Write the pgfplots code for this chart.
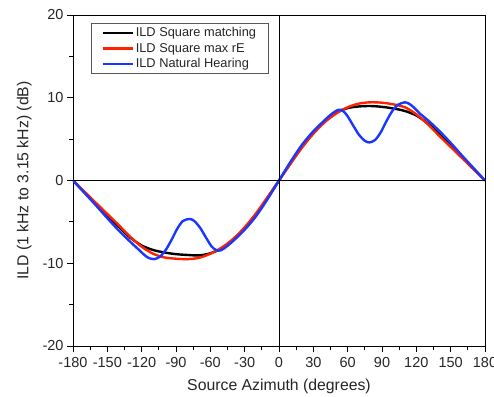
\documentclass[border=0pt]{standalone}
\usepackage{fontspec}
\setmainfont{Liberation Sans}
\usepackage{pgfplots}
\pgfplotsset{compat=1.18}
\definecolor{cred}{RGB}{255,34,0}
\definecolor{cblue}{RGB}{25,55,255}
\begin{document}
\begin{tikzpicture}
\begin{axis}[
  scale only axis,
  width=412pt, height=331pt,
  xmin=-180, xmax=180, ymin=-20, ymax=20,
  xtick={-180,-150,...,180}, ytick={-20,-10,...,20},
  minor x tick num=1, minor y tick num=1,
  tick align=outside, xtick pos=bottom, ytick pos=left,
  major tick length=6pt, minor tick length=4pt,
  tick style={black, line width=0.8pt},
  axis line style={black, line width=0.8pt},
  /pgf/number format/assume math mode=true,
  tick label style={font=\fontsize{14.5}{16}\selectfont, text=black!85},
  xticklabel style={yshift=-2pt},
  xlabel={Source Azimuth (degrees)},
  ylabel={ILD (1 kHz to 3.15 kHz) (dB)},
  label style={font=\fontsize{15.8}{18}\selectfont, text=black!85},
  xlabel style={yshift=-4pt},
  ylabel style={yshift=4pt},
  legend style={at={(axis description cs:0,1)}, anchor=north west, xshift=18pt, yshift=-8pt,
    draw=black!65, line width=0.8pt, font=\fontsize{12.8}{14.5}\selectfont, text=black!85,
    inner xsep=10pt, inner ysep=2pt, row sep=1pt, cells={anchor=west}},
  legend image code/.code={\draw[#1] (2pt,0pt) -- (32pt,0pt);},
  every axis plot/.append style={line width=2.4pt, smooth, no markers, line join=round},
]
\addplot[black] coordinates {
(-180,0)(-170,-1.4)(-160,-2.8)(-150,-4.2)(-140,-5.6)(-130,-6.9)(-120,-7.85)(-110,-8.4)(-100,-8.7)(-90,-8.9)(-80,-9.0)(-70,-9.05)(-60,-8.8)(-50,-8.2)(-40,-7.2)(-30,-5.8)(-20,-4.1)(-10,-2.1)
(0,0)(10,2.1)(20,4.1)(30,5.8)(40,7.2)(50,8.2)(60,8.75)(70,8.95)(80,9.0)(90,8.9)(100,8.7)(110,8.4)(120,7.85)(130,6.9)(140,5.6)(150,4.2)(160,2.8)(170,1.4)(180,0)};
\addlegendentry{ILD Square matching}
\addplot[cred] coordinates {
(-180,0)(-170,-1.35)(-160,-2.7)(-150,-4.05)(-140,-5.4)(-130,-6.8)(-120,-8.0)(-110,-8.85)(-100,-9.3)(-90,-9.45)(-80,-9.5)(-70,-9.35)(-60,-8.85)(-50,-8.1)(-40,-7.05)(-30,-5.65)(-20,-3.95)(-10,-2.0)
(0,0)(10,2.0)(20,3.95)(30,5.65)(40,7.05)(50,8.1)(60,8.85)(70,9.3)(80,9.45)(90,9.4)(100,9.2)(110,8.85)(120,8.0)(130,6.8)(140,5.4)(150,4.05)(160,2.7)(170,1.35)(180,0)};
\addlegendentry{ILD Square max rE}
\addplot[cblue] coordinates {
(-180,0)(-170,-1.5)(-160,-3.0)(-150,-4.55)(-140,-6.05)(-130,-7.4)(-123,-8.3)(-118,-8.95)(-114,-9.35)(-109,-9.5)(-104,-9.2)(-99,-8.4)(-94,-7.2)(-89,-5.85)(-84,-4.9)(-78,-4.65)(-74,-4.9)(-69,-5.7)(-64,-6.85)(-59,-7.95)(-55,-8.4)(-51,-8.45)(-46,-8.0)(-40,-7.3)(-30,-5.95)(-20,-4.3)(-10,-2.25)
(0,0)(10,2.25)(20,4.3)(30,5.95)(40,7.3)(46,8.05)(52,8.55)(56,8.4)(60,7.75)(65,6.6)(70,5.5)(75,4.8)(79,4.6)(84,4.9)(89,5.85)(94,7.2)(99,8.4)(104,9.15)(110,9.45)(114,9.25)(118,8.8)(123,8.1)(130,7.3)(140,6.0)(150,4.55)(160,3.0)(170,1.5)(180,0)};
\addlegendentry{ILD Natural Hearing}
\addplot[black, line width=0.8pt, sharp plot, forget plot] coordinates {(0,-20)(0,20)};
\addplot[black, line width=0.8pt, sharp plot, forget plot] coordinates {(-180,0)(180,0)};
\coordinate (bl) at (rel axis cs:0,0);
\coordinate (tr) at (rel axis cs:1,1);
\end{axis}
\pgfresetboundingbox
\path[use as bounding box] ([shift={(-73pt,-50pt)}]bl) rectangle ([shift={(9pt,15pt)}]tr);
\end{tikzpicture}
\end{document}
